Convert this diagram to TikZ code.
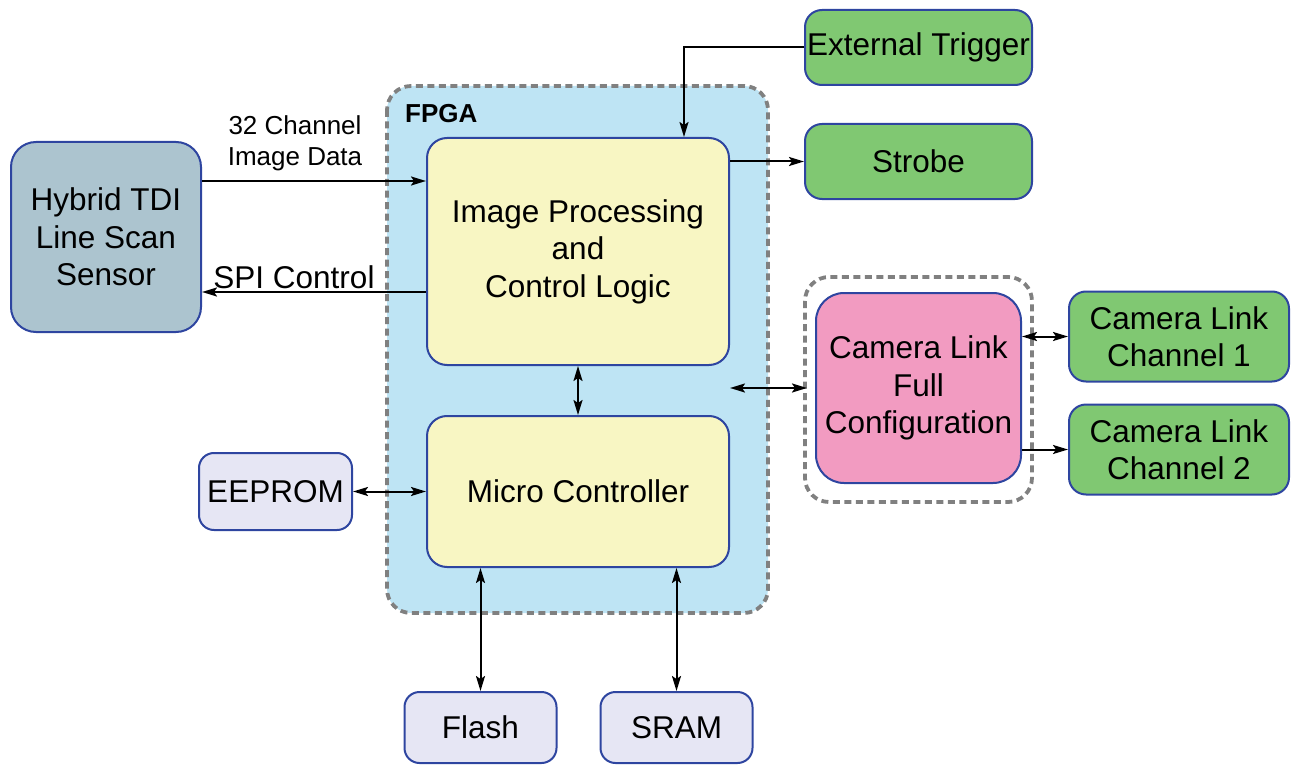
\documentclass[tikz,border=0pt]{standalone}
\usepackage{fontspec}
\setmainfont{Liberation Sans}
\usetikzlibrary{arrows.meta}
\definecolor{fpgablue}{HTML}{BEE4F4}
\definecolor{boxyellow}{HTML}{F8F6C3}
\definecolor{edgeblue}{HTML}{2E45A0}
\definecolor{sensorgray}{HTML}{ACC4CF}
\definecolor{boxgreen}{HTML}{80C872}
\definecolor{boxpink}{HTML}{F29BC1}
\definecolor{boxlav}{HTML}{E6E6F4}
\definecolor{dashgray}{HTML}{808080}
\begin{document}
\begin{tikzpicture}[x=1pt,y=-1pt,
  blk/.style={draw=edgeblue,line width=2pt,rounded corners=20pt,inner sep=0pt,align=center,
    font=\fontsize{31.5}{37.5}\selectfont},
  grp/.style={draw=dashgray,line width=3.8pt,dash pattern=on 7pt off 4.5pt,rounded corners=24pt},
  conn/.style={line width=2pt,-{Stealth[length=15pt,width=9pt,inset=3pt]}},
  bconn/.style={line width=2pt,{Stealth[length=15pt,width=9pt,inset=3pt]}-{Stealth[length=15pt,width=9pt,inset=3pt]}}
]
\useasboundingbox (0,0) rectangle (1291,765);
% FPGA container
\draw[grp,fill=fpgablue] (387,86) rectangle (768,613);
\node[anchor=west,font=\fontsize{26}{30}\selectfont\bfseries,inner sep=0pt] (fpgalbl) at (405,114) {FPGA};
% Camera link container
\draw[grp] (805,277) rectangle (1032,502);
% Blocks
\node[blk,fill=boxyellow,minimum width=302pt,minimum height=227pt] (ip) at (578,251.5) {Image Processing\\and\\Control Logic};
\node[blk,fill=boxyellow,minimum width=302pt,minimum height=151pt] (mc) at (578,491.5) {Micro Controller};
\node[blk,fill=sensorgray,minimum width=190pt,minimum height=190pt,rounded corners=25pt] (sensor) at (106,237) {Hybrid TDI\\Line Scan\\Sensor};
\node[blk,fill=boxgreen,minimum width=227pt,minimum height=75pt,rounded corners=17pt] (trig) at (918.5,47.5) {External Trigger};
\node[blk,fill=boxgreen,minimum width=227pt,minimum height=75pt,rounded corners=17pt] (strobe) at (918.5,161.5) {Strobe};
\node[blk,fill=boxpink,minimum width=205pt,minimum height=190pt,rounded corners=28pt] (clfull) at (918.5,388) {Camera Link\\Full\\Configuration};
\node[blk,fill=boxgreen,minimum width=220pt,minimum height=90pt,rounded corners=17pt] (ch1) at (1179,336.5) {Camera Link\\Channel 1};
\node[blk,fill=boxgreen,minimum width=220pt,minimum height=90pt,rounded corners=17pt] (ch2) at (1179,449.5) {Camera Link\\Channel 2};
\node[blk,fill=boxlav,minimum width=153pt,minimum height=77pt,rounded corners=15pt] (eeprom) at (275.5,491.5) {EEPROM};
\node[blk,fill=boxlav,minimum width=152pt,minimum height=71pt,rounded corners=15pt] (flash) at (480.5,727.5) {Flash};
\node[blk,fill=boxlav,minimum width=152pt,minimum height=71pt,rounded corners=15pt] (sram) at (676.5,727.5) {SRAM};
% Labels
\node[align=center,font=\fontsize{26}{31}\selectfont,inner sep=0pt] (lbl32) at (295,143) {32 Channel\\Image Data};
\node[font=\fontsize{31.5}{37.5}\selectfont,inner sep=0pt] (lblspi) at (294,277) {SPI Control};
% Connectors
\draw[conn] (sensor.east |- 0,181) -- (ip.west |- 0,181);
\draw[conn] (ip.west |- 0,292) -- (sensor.east |- 0,292);
\draw[conn] (trig.west) -- (684,47.5) -- (ip.north -| 684,0);
\draw[conn] (ip.east |- 0,161.5) -- (strobe.west);
\draw[bconn] (ip.south) -- (mc.north);
\coordinate (fpgaright) at (730,388);
\draw[bconn] (fpgaright) -- (807,388);
\draw[bconn] (clfull.east |- 0,336.5) -- (ch1.west);
\draw[conn] (clfull.east |- 0,449.5) -- (ch2.west);
\draw[bconn] (eeprom.east) -- (mc.west);
\draw[bconn] (mc.south -| flash.north) -- (flash.north);
\draw[bconn] (mc.south -| sram.north) -- (sram.north);
\end{tikzpicture}
\end{document}
